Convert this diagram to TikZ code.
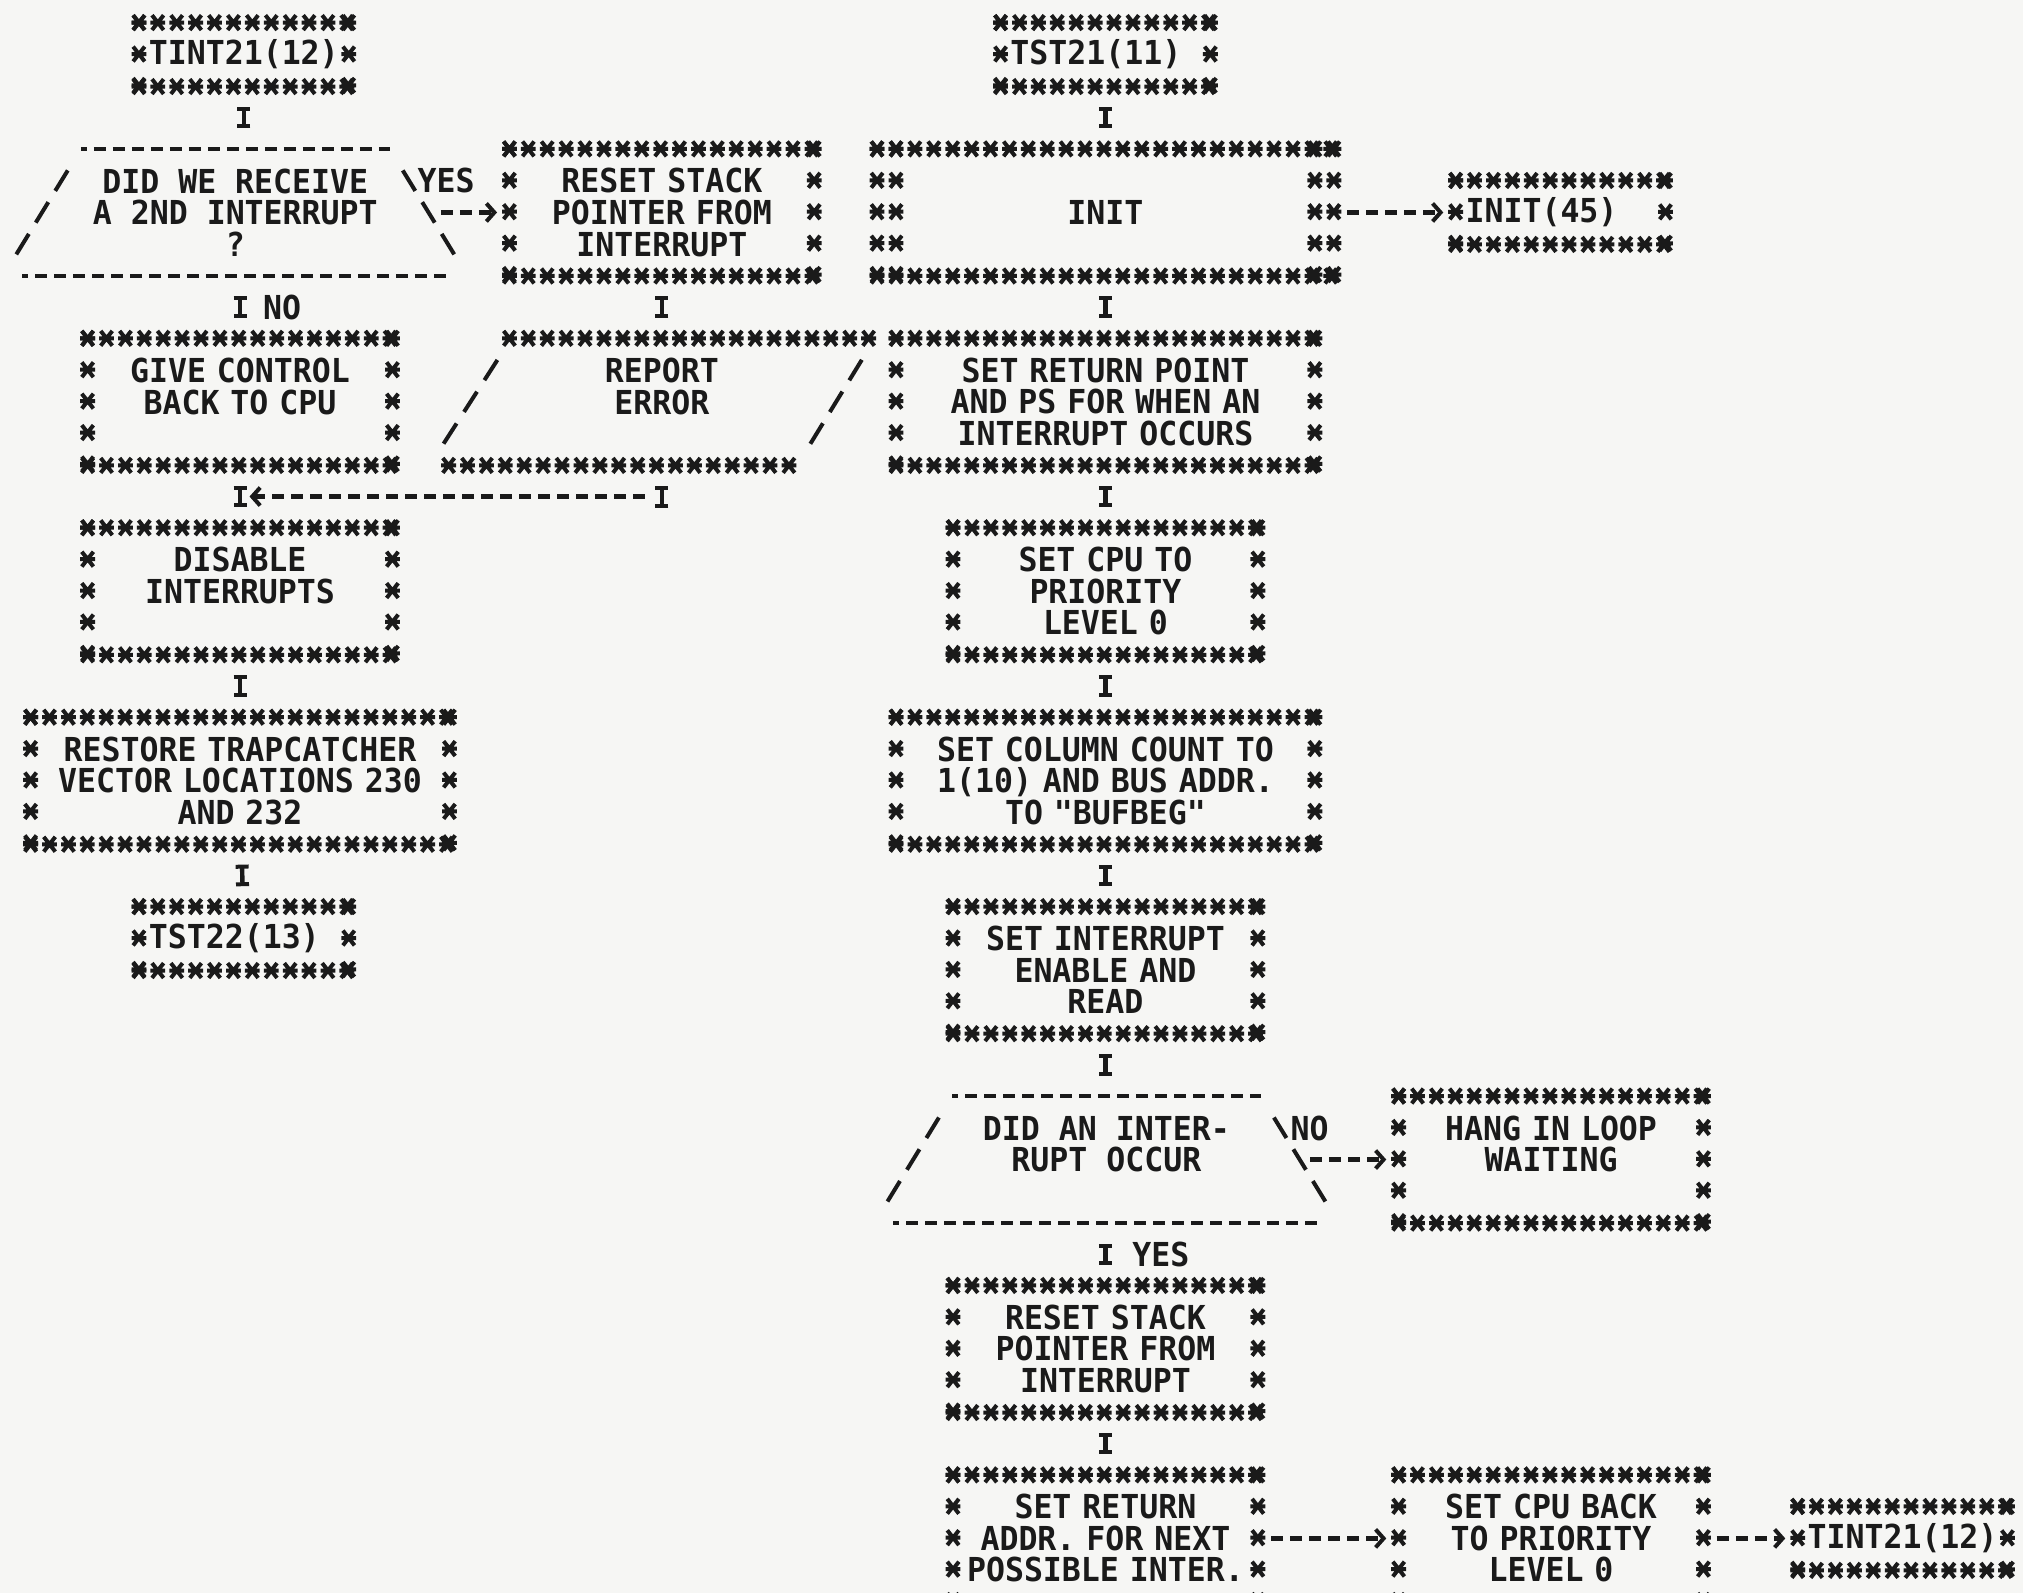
\documentclass[tikz,border=0pt]{standalone}
\usepackage{fontspec}
\usepackage{xcolor}
\usetikzlibrary{arrows.meta,positioning,decorations.markings,calc}
\newfontfamily\prtfont[FakeStretch=0.956]{DejaVu Sans Mono}
\newcommand\prt{\prtfont\bfseries\fontsize{16.5pt}{15.785pt}\selectfont}
\definecolor{prtInk}{HTML}{1A1A1A}
\definecolor{prtPaper}{HTML}{F6F6F4}
\newlength\colw \setlength\colw{9.5pt}
\newlength\rowh \setlength\rowh{15.785pt}
\newcommand\prtstar{\pgftransformresetnontranslations
  \draw[prtInk,line width=2pt] (-2.9pt,-3.7pt) -- (2.9pt,3.7pt) (-2.9pt,3.7pt) -- (2.9pt,-3.7pt) (-3.7pt,0pt) -- (3.7pt,0pt);}
\tikzset{
  starh/.style={draw=none,decorate,decoration={markings,mark=between positions 0 and 1 step 0.995\colw with {\prtstar}}},
  starv/.style={draw=none,decorate,decoration={markings,mark=between positions 0 and 1 step 0.995\rowh with {\prtstar}}},
  dashrow/.style={draw=prtInk,line width=2.2pt,dash pattern=on 6pt off 3.5pt,dash phase=3pt},
  slashes/.style={draw=none,decorate,decoration={markings,mark=between positions 0.25 and 0.8 step 0.25 with {\draw[prtInk,line width=2pt] (-6pt,0pt) -- (6pt,0pt);}}},
  starrim/.style={append after command={
      (\tikzlastnode.north west) edge[starh] (\tikzlastnode.north east)
      (\tikzlastnode.south west) edge[starh] (\tikzlastnode.south east)
      (\tikzlastnode.north west) edge[starv] (\tikzlastnode.south west)
      (\tikzlastnode.north east) edge[starv] (\tikzlastnode.south east)}},
  procbox/.style={rectangle,font=\prt,text=prtInk,align=center,inner sep=0pt,
    text width=15\colw,minimum width=16\colw,minimum height=4\rowh,starrim},
  widebox/.style={procbox,text width=21\colw,minimum width=22\colw},
  initbox/.style={procbox,text width=23\colw,minimum width=24\colw,append after command={
      ([xshift=\colw]\tikzlastnode.north west) edge[starv] ([xshift=\colw]\tikzlastnode.south west)
      ([xshift=-\colw]\tikzlastnode.north east) edge[starv] ([xshift=-\colw]\tikzlastnode.south east)}},
  termbox/.style={rectangle,font=\prt,text=prtInk,align=left,inner sep=0pt,
    text width=10\colw,minimum width=11\colw,minimum height=2\rowh,starrim},
  decision/.style={rectangle,font=\prt,text=prtInk,align=center,inner sep=0pt,
    minimum width=22.4\colw,minimum height=4\rowh,append after command={
      ([xshift=3.1\colw]\tikzlastnode.north west) edge[dashrow] ([xshift=-3.1\colw]\tikzlastnode.north east)
      (\tikzlastnode.south west) edge[dashrow] (\tikzlastnode.south east)
      ([xshift=3.1\colw]\tikzlastnode.north west) edge[slashes] ([xshift=-\colw]\tikzlastnode.south west)
      ([xshift=-3.1\colw]\tikzlastnode.north east) edge[slashes] ([xshift=\colw]\tikzlastnode.south east)}},
  slantbox/.style={rectangle,font=\prt,text=prtInk,align=center,inner sep=0pt,
    minimum width=23.4\colw,minimum height=4\rowh,append after command={
      ([xshift=3.7\colw]\tikzlastnode.north west) edge[starh] ([xshift=-0.6\colw]\tikzlastnode.north east)
      ([xshift=0.5\colw]\tikzlastnode.south west) edge[starh] ([xshift=-4.7\colw]\tikzlastnode.south east)
      ([xshift=3.8\colw]\tikzlastnode.north west) edge[slashes] ([xshift=-0.5\colw]\tikzlastnode.south west)
      ([xshift=-0.5\colw]\tikzlastnode.north east) edge[slashes] ([xshift=-4.6\colw]\tikzlastnode.south east)}},
  lbl/.style={font=\prt,text=prtInk,inner sep=0pt},
  flowI/.style={draw=prtInk,line width=2.2pt,
    arrows={Bar[width=6.5pt,line width=2pt]-Bar[width=6.5pt,line width=2pt]},
    shorten <=10.2pt,shorten >=10.2pt},
  dasharrow/.style={draw=prtInk,line width=2.2pt,dash pattern=on 6pt off 3.5pt,
    arrows={-Straight Barb[length=4pt,width=9pt,line width=2pt]},
    shorten <=0.7\colw,shorten >=0.65\colw}
}
\begin{document}
\begin{tikzpicture}[x=9.5pt,y=-15.785pt]
  \fill[prtPaper] (-0.632,-0.729) rectangle (105.84,49.73);
  \useasboundingbox (-0.632,-0.729) rectangle (105.84,49.73);
  \clip (-0.632,-0.729) rectangle (105.84,49.70);

  \node[termbox] (tint1) at (12.2,1) {TINT21(12)};
  \node[decision] (dec1) at (11.75,6) {DID WE RECEIVE\\A 2ND INTERRUPT\\?};
  \node[procbox] (reset1) at (34.2,6) {RESET STACK\\POINTER FROM\\INTERRUPT};
  \node[procbox] (give) at (12,12) {GIVE CONTROL\\BACK TO CPU\\\mbox{}};
  \node[slantbox] (report) at (34.2,12) {REPORT\\ERROR\\\mbox{}};
  \node[procbox] (disable) at (12,18) {DISABLE\\INTERRUPTS\\\mbox{}};
  \node[widebox] (restore) at (12,24) {RESTORE TRAPCATCHER\\VECTOR LOCATIONS 230\\AND 232};
  \node[termbox] (tst22) at (12.2,29) {TST22(13)};

  \node[termbox] (tst21) at (57.55,1) {TST21(11)};
  \node[initbox] (init) at (57.55,6) {INIT};
  \node[termbox] (init45) at (81.5,6) {INIT(45)};
  \node[widebox] (setret) at (57.55,12) {SET RETURN POINT\\AND PS FOR WHEN AN\\INTERRUPT OCCURS};
  \node[procbox] (setcpu) at (57.55,18) {SET CPU TO\\PRIORITY\\LEVEL 0};
  \node[widebox] (setcol) at (57.55,24) {SET COLUMN COUNT TO\\1(10) AND BUS ADDR.\\TO "BUFBEG"};
  \node[procbox] (setint) at (57.55,30) {SET INTERRUPT\\ENABLE AND\\READ};
  \node[decision] (dec2) at (57.6,36) {DID AN INTER-\\RUPT OCCUR\\\mbox{}};
  \node[procbox] (hang) at (81,36) {HANG IN LOOP\\WAITING\\\mbox{}};
  \node[procbox] (reset2) at (57.55,42) {RESET STACK\\POINTER FROM\\INTERRUPT};
  \node[procbox] (setaddr) at (57.55,48) {SET RETURN\\ADDR. FOR NEXT\\POSSIBLE INTER.};
  \node[procbox] (cpuback) at (81,48) {SET CPU BACK\\TO PRIORITY\\LEVEL 0};
  \node[termbox] (tint2) at (99.5,48) {TINT21(12)};

  \node[lbl,anchor=west] (yes1) at ([shift={(-1.65,-1)}]dec1.east) {YES};
  \node[lbl,anchor=west] (no2) at ([shift={(-1.55,-1)}]dec2.east) {NO};
  \coordinate (join) at ($(give.south)!0.5!(disable.north)$);
  \coordinate (repturn) at (report.south |- join);

  \draw[flowI] (tint1) -- (tint1 |- dec1.north);
  \draw[flowI] (dec1.south -| give) -- node[lbl,right=1.1\colw] (no1) {NO} (give);
  \draw[dasharrow,shorten <=0pt] ([xshift=-0.4\colw]dec1.east) -- (reset1.west);
  \draw[flowI] (reset1) -- (report);
  \draw[flowI,shorten >=0pt] (report.south) -- ([yshift=-5.6pt]repturn);
  \draw[dasharrow,shorten <=0.9\colw,shorten >=0.5\colw] (repturn) -- (join);
  \draw[flowI] (give) -- (disable);
  \draw[flowI] (disable) -- (restore);
  \draw[flowI] (restore) -- (tst22);

  \draw[flowI] (tst21) -- (init);
  \draw[dasharrow] (init) -- (init45);
  \draw[flowI] (init) -- (setret);
  \draw[flowI] (setret) -- (setcpu);
  \draw[flowI] (setcpu) -- (setcol);
  \draw[flowI] (setcol) -- (setint);
  \draw[flowI] (setint) -- (setint |- dec2.north);
  \draw[dasharrow,shorten <=0pt] ([xshift=-0.5\colw]dec2.east) -- (hang.west);
  \draw[flowI] (dec2.south -| reset2) -- node[lbl,right=1.3\colw] (yes2) {YES} (reset2);
  \draw[flowI] (reset2) -- (setaddr);
  \draw[dasharrow] (setaddr) -- (cpuback);
  \draw[dasharrow] (cpuback) -- (tint2);
\end{tikzpicture}
\end{document}
